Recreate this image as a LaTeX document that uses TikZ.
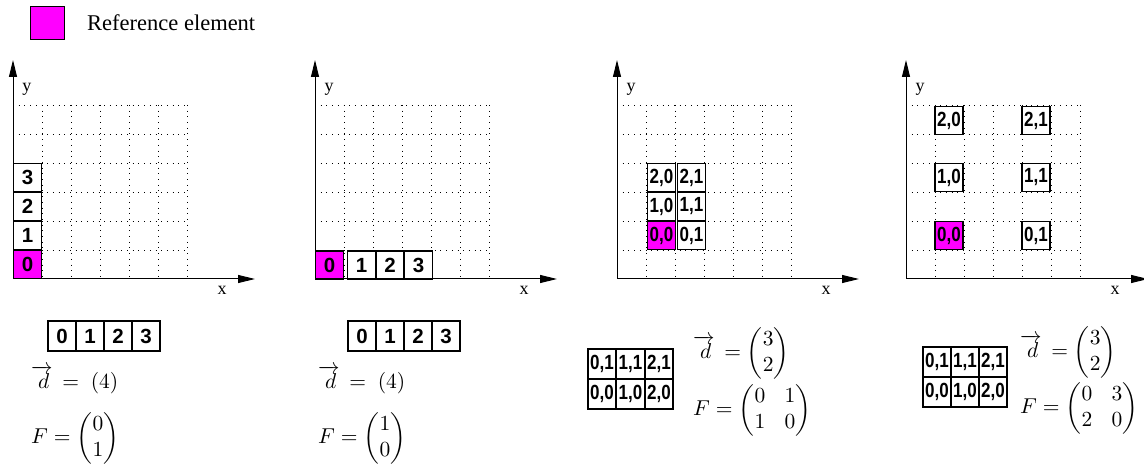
\documentclass[tikz,border=0pt]{standalone}
\usepackage{amsmath}
\usepackage[no-math]{fontspec}
\setmainfont{Liberation Serif}
\setsansfont{Liberation Sans}
\usepackage{graphicx}
\usetikzlibrary{arrows.meta}
\definecolor{refmag}{RGB}{255,0,255}

\tikzset{
  cellbox/.style={draw=black, line width=1.3pt, fill=white, minimum width=28pt, minimum height=28pt, inner sep=0pt, font=\sffamily\bfseries\fontsize{20.5}{20.5}\selectfont},
  refcell/.style={cellbox, fill=refmag},
  stripbox/.style={cellbox, minimum height=30pt},
  gridline/.style={line width=0.9pt, dash pattern=on 1pt off 4.7pt, black},
  axisline/.style={line width=1pt, -{Triangle[length=17pt,width=8pt]}},
  axlabel/.style={font=\fontsize{18}{18}\selectfont, inner sep=0pt},
  formula/.style={anchor=west, inner sep=0pt},
}
\newcommand\pr[1]{\scalebox{0.83}[1]{#1}}
\newcommand\fm[1]{\scalebox{2.15}{\setlength{\arraycolsep}{4.5pt}$#1$}}
\newcommand\dvec{\overrightarrow{\,d}\,}

\newcommand\drawpanel[2]{%
  \coordinate (o#2) at (#1,279);
  \coordinate (ytip#2) at (#1,60);
  \coordinate (xtip#2) at (#1+242,279);
  \foreach \k in {1,...,6} {
    \draw[gridline] (#1,279-29*\k) -- (#1+174,279-29*\k);
    \draw[gridline] (#1+29*\k,105) -- (#1+29*\k,279);
  }
  \draw[axisline] (o#2) -- (ytip#2);
  \draw[axisline] (o#2) -- (xtip#2);
  \node[axlabel] (ylab#2) at (#1+14,89) {y};
  \node[axlabel] (xlab#2) at (#1+209,290) {x};
}

\begin{document}
\begin{tikzpicture}[x=1pt,y=-1pt]
\useasboundingbox (0,0) rectangle (1144,470);

% legend
\node[draw, line width=1pt, fill=refmag, minimum width=34pt, minimum height=33pt, inner sep=0pt, anchor=north west] (legbox) at (30,6) {};
\node[anchor=west, font=\fontsize{22.5}{22.5}\selectfont, inner sep=0pt] (legtext) at (87,23) {Reference element};

% panels
\drawpanel{13}{a}
\drawpanel{315}{b}
\drawpanel{617}{c}
\drawpanel{906}{d}

% panel 1 cells
\node[refcell] (a0) at (27.5,264.5) {0};
\node[cellbox] (a1) at (27.5,235.5) {1};
\node[cellbox] (a2) at (27.5,206.5) {2};
\node[cellbox] (a3) at (27.5,177.5) {3};

% panel 2 cells
\node[refcell] (b0) at (329.5,265) {0};
\node[cellbox] (b1) at (361.5,265) {1};
\node[cellbox] (b2) at (390,265) {2};
\node[cellbox] (b3) at (418.5,265) {3};

% panel 3 cells
\node[refcell] (c00) at (661.5,235.5) {\pr{0,0}};
\node[cellbox] (c01) at (691.5,235.5) {\pr{0,1}};
\node[cellbox] (c10) at (661.5,206.5) {\pr{1,0}};
\node[cellbox] (c11) at (691.5,206.5) {\pr{1,1}};
\node[cellbox] (c20) at (661.5,177.5) {\pr{2,0}};
\node[cellbox] (c21) at (691.5,177.5) {\pr{2,1}};

% panel 4 cells
\node[refcell] (d00) at (949,235.5) {\pr{0,0}};
\node[cellbox] (d01) at (1036,235.5) {\pr{0,1}};
\node[cellbox] (d10) at (949,177.5) {\pr{1,0}};
\node[cellbox] (d11) at (1036,177.5) {\pr{1,1}};
\node[cellbox] (d20) at (949,120.5) {\pr{2,0}};
\node[cellbox] (d21) at (1036,120.5) {\pr{2,1}};

% bottom strips
\node[stripbox] (sa0) at (62,336) {0};
\node[stripbox] (sa1) at (90,336) {1};
\node[stripbox] (sa2) at (118,336) {2};
\node[stripbox] (sa3) at (146,336) {3};

\node[stripbox] (sb0) at (362,336) {0};
\node[stripbox] (sb1) at (390,336) {1};
\node[stripbox] (sb2) at (418,336) {2};
\node[stripbox] (sb3) at (446,336) {3};

\node[stripbox] (sc01) at (602,364) {\pr{0,1}};
\node[stripbox] (sc11) at (630.5,364) {\pr{1,1}};
\node[stripbox] (sc21) at (659,364) {\pr{2,1}};
\node[stripbox] (sc00) at (602,394) {\pr{0,0}};
\node[stripbox] (sc10) at (630.5,394) {\pr{1,0}};
\node[stripbox] (sc20) at (659,394) {\pr{2,0}};

\node[stripbox] (sd01) at (937,362) {\pr{0,1}};
\node[stripbox] (sd11) at (965,362) {\pr{1,1}};
\node[stripbox] (sd21) at (993,362) {\pr{2,1}};
\node[stripbox] (sd00) at (937,392) {\pr{0,0}};
\node[stripbox] (sd10) at (965,392) {\pr{1,0}};
\node[stripbox] (sd20) at (993,392) {\pr{2,0}};

% formulas
\node[formula] (fad) at (31,380) {\fm{\dvec = \;(4)}};
\node[formula] (faF) at (31,438) {\fm{F = \begin{pmatrix}0\\1\end{pmatrix}}};
\node[formula] (fbd) at (318,380) {\fm{\dvec = \;(4)}};
\node[formula] (fbF) at (318,438) {\fm{F = \begin{pmatrix}1\\0\end{pmatrix}}};
\node[formula] (fcd) at (693,353) {\fm{\dvec = \begin{pmatrix}3\\2\end{pmatrix}}};
\node[formula] (fcF) at (693,410) {\fm{F = \begin{pmatrix}0 & 1\\1 & 0\end{pmatrix}}};
\node[formula] (fdd) at (1020,352) {\fm{\dvec = \begin{pmatrix}3\\2\end{pmatrix}}};
\node[formula] (fdF) at (1020,408) {\fm{F = \begin{pmatrix}0 & 3\\2 & 0\end{pmatrix}}};
\end{tikzpicture}
\end{document}
